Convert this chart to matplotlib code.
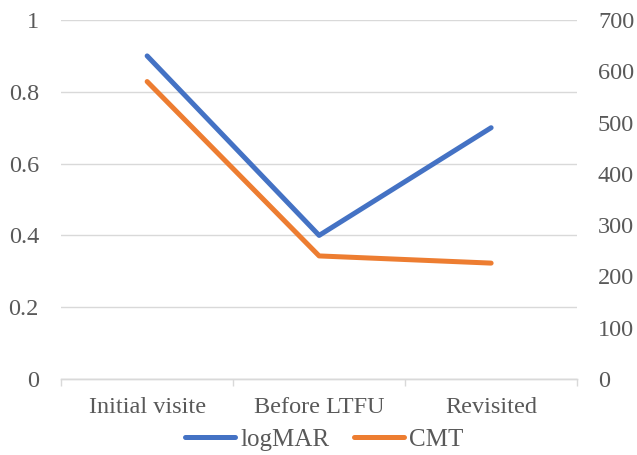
import matplotlib.pyplot as plt
from matplotlib.ticker import FixedLocator

categories = ["Initial visite", "Before LTFU", "Revisited"]
logmar = [0.9, 0.4, 0.7]
cmt = [580, 240, 226]

plt.rcParams['font.family'] = ['Liberation Serif', 'DejaVu Serif']
text_color = "#595959"
grid_color = "#d9d9d9"

fig = plt.figure(figsize=(6.37, 4.55), dpi=100)
ax = fig.add_axes([0.096, 0.167, 0.81, 0.789])
ax2 = ax.twinx()

x = list(range(len(categories)))
ln1, = ax.plot(x, logmar, color="#4472C4", lw=3.6, solid_capstyle="round", label="logMAR", zorder=3)
ln2, = ax2.plot(x, cmt, color="#ED7D31", lw=3.6, solid_capstyle="round", label="CMT", zorder=3)

ax.set_xlim(-0.5, 2.5)
ax.set_ylim(0, 1)
ax.set_yticks([0, 0.2, 0.4, 0.6, 0.8, 1.0])
ax.set_yticklabels(["0", "0.2", "0.4", "0.6", "0.8", "1"])
ax2.set_ylim(0, 700)
ax2.set_yticks(range(0, 701, 100))

ax.set_xticks(x)
ax.set_xticklabels(categories)
ax.xaxis.set_minor_locator(FixedLocator([-0.5, 0.5, 1.5, 2.5]))
ax.tick_params(axis="x", which="major", length=0, pad=13, labelsize=17.5, labelcolor=text_color)
ax.tick_params(axis="x", which="minor", length=5, width=1, color=grid_color)
ax.tick_params(axis="y", length=0, pad=16, labelsize=17.5, labelcolor=text_color)
ax2.tick_params(axis="y", length=0, pad=15, labelsize=17.5, labelcolor=text_color)

ax.grid(axis="y", color=grid_color, lw=1)
ax.set_axisbelow(True)
for a in (ax, ax2):
    for s in ("top", "left", "right"):
        a.spines[s].set_visible(False)
    a.spines["bottom"].set_color(grid_color)
    a.spines["bottom"].set_linewidth(1)

leg = fig.legend([ln1, ln2], ["logMAR", "CMT"], loc="lower center", bbox_to_anchor=(0.509, -0.04),
                 ncol=2, frameon=False, fontsize=18, handlelength=2.0, handletextpad=0.2,
                 columnspacing=1.0, labelcolor=text_color)

fig.savefig("out.png", dpi=100)
